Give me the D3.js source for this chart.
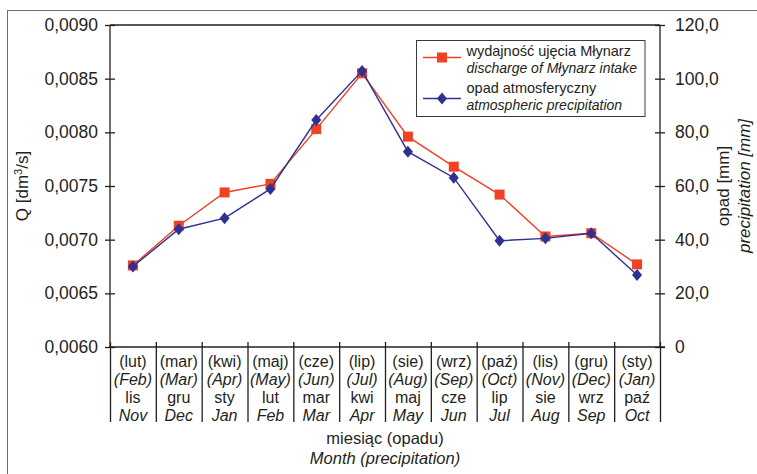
<!DOCTYPE html>
<html>
<head>
<meta charset="utf-8">
<script src="https://cdn.jsdelivr.net/npm/d3@7/dist/d3.min.js"></script>
<style>
  html, body { margin: 0; padding: 0; background: #fff; }
  svg text { font-family: "Liberation Sans", Arial, Helvetica, sans-serif; fill: #231f20; }
</style>
</head>
<body>
<svg id="chart" width="757" height="474"></svg>
<script>
// Month labels (four rows under each category: precipitation month PL/EN, discharge month PL/EN)
const precipMonthsPl = ["(lut)", "(mar)", "(kwi)", "(maj)", "(cze)", "(lip)", "(sie)", "(wrz)", "(paź)", "(lis)", "(gru)", "(sty)"];
const precipMonthsEn = ["(Feb)", "(Mar)", "(Apr)", "(May)", "(Jun)", "(Jul)", "(Aug)", "(Sep)", "(Oct)", "(Nov)", "(Dec)", "(Jan)"];
const monthsPl = ["lis", "gru", "sty", "lut", "mar", "kwi", "maj", "cze", "lip", "sie", "wrz", "paź"];
const monthsEn = ["Nov", "Dec", "Jan", "Feb", "Mar", "Apr", "May", "Jun", "Jul", "Aug", "Sep", "Oct"];

// Discharge of the Młynarz intake, Q [dm3/s]
const discharge = [0.00676, 0.00713, 0.00744, 0.00752, 0.00803, 0.00855, 0.00796, 0.00768, 0.00742, 0.00703, 0.00706, 0.00677];
// Atmospheric precipitation [mm]
const precipitation = [30.0, 43.9, 48.0, 58.9, 84.6, 102.9, 72.8, 63.1, 39.6, 40.5, 42.4, 26.8];

// Axis ticks
const leftTicks = [0.0060, 0.0065, 0.0070, 0.0075, 0.0080, 0.0085, 0.0090];
const rightTicks = [0, 20, 40, 60, 80, 100, 120];

const legendLabels = [
  ["wydajność ujęcia Młynarz", "discharge of Młynarz intake"],
  ["opad atmosferyczny", "atmospheric precipitation"]
];

const RED = "#ef4123";
const BLUE = "#2e3192";
const INK = "#231f20";

const svg = d3.select("#chart");
const margin = { left: 110, right: 97, top: 25, bottom: 127 };
const W = 757, H = 474;
const x0 = margin.left, x1 = W - margin.right;
const y0 = H - margin.bottom, y1 = margin.top;

const locale = d3.formatLocale({ decimal: ",", thousands: " ", grouping: [3], currency: ["", " zł"] });
const fmtQ = locale.format(".4f");
const fmtP = locale.format(".1f");

const n = discharge.length;
const x = d3.scaleBand().domain(d3.range(n)).range([x0, x1]).padding(0);
const xEdge = d3.scaleLinear().domain([0, n]).range([x0, x1]);
const yL = d3.scaleLinear().domain([0.006, 0.009]).range([y0, y1]);
const yR = d3.scaleLinear().domain([0, 120]).range([y0, y1]);
const cx = i => x(i) + x.bandwidth() / 2;

// outer frame
svg.append("rect")
  .attr("x", 7.5).attr("y", 10.5).attr("width", 760).attr("height", 480)
  .attr("fill", "none").attr("stroke", "#6d6e70").attr("stroke-width", 1);

// top border of the plot area
svg.append("line")
  .attr("x1", x0).attr("x2", x1).attr("y1", y1).attr("y2", y1)
  .attr("stroke", INK).attr("stroke-width", 1.3);

// left axis
const gL = svg.append("g").attr("transform", `translate(${x0},0)`)
  .call(d3.axisLeft(yL).tickValues(leftTicks).tickSize(5).tickPadding(7).tickFormat(fmtQ));
gL.selectAll(".tick line").attr("x1", 5);
gL.selectAll(".domain").attr("d", `M0,${y1}V${y0 + 1}`);

// right axis
const gR = svg.append("g").attr("transform", `translate(${x1},0)`)
  .call(d3.axisRight(yR).tickValues(rightTicks).tickSize(5).tickPadding(10)
    .tickFormat(d => d === 0 ? "0" : fmtP(d)));
gR.selectAll(".tick line").attr("x1", -5);
gR.selectAll(".domain").attr("d", `M0,${y1}V${y0}`);

// bottom axis with category separators
const gB = svg.append("g").attr("transform", `translate(0,${y0})`)
  .call(d3.axisBottom(xEdge).tickValues(d3.range(n + 1)).tickSize(0).tickFormat(""));
gB.selectAll(".tick line").attr("y1", -5).attr("y2", 75);
gB.selectAll(".domain").attr("d", `M${x0 - 1},0H${x1 + 5}`);

[gL, gR, gB].forEach(g => {
  g.selectAll("line, path").attr("stroke", INK).attr("stroke-width", 1.3);
  g.selectAll("text").attr("font-size", 17.5).attr("fill", INK)
    .style("font-family", '"Liberation Sans", Arial, sans-serif');
});

// category labels
const rows = [
  { labels: precipMonthsPl, italic: false, y: 366.5 },
  { labels: precipMonthsEn, italic: true, y: 384.5 },
  { labels: monthsPl, italic: false, y: 402.5 },
  { labels: monthsEn, italic: true, y: 420.5 }
];
rows.forEach(r => {
  svg.append("g").selectAll("text").data(r.labels).join("text")
    .attr("x", (d, i) => cx(i)).attr("y", r.y)
    .attr("text-anchor", "middle").attr("font-size", 16)
    .attr("font-style", r.italic ? "italic" : "normal")
    .text(d => d);
});

// axis titles
const midX = (x0 + x1) / 2, midY = (y0 + y1) / 2;
svg.append("text").attr("x", midX).attr("y", 444).attr("text-anchor", "middle")
  .attr("font-size", 16.5).text("miesiąc (opadu)");
svg.append("text").attr("x", midX).attr("y", 463.5).attr("text-anchor", "middle")
  .attr("font-size", 16.5).attr("font-style", "italic").text("Month (precipitation)");

const qTitle = svg.append("text")
  .attr("transform", `translate(28,${midY}) rotate(-90)`)
  .attr("text-anchor", "middle").attr("font-size", 17);
qTitle.append("tspan").text("Q [dm");
qTitle.append("tspan").attr("font-size", 11).attr("dy", -6).text("3");
qTitle.append("tspan").attr("dy", 6).text("/s]");

svg.append("text").attr("transform", `translate(728.5,${midY}) rotate(-90)`)
  .attr("text-anchor", "middle").attr("font-size", 17).text("opad [mm]");
svg.append("text").attr("transform", `translate(749.5,${midY}) rotate(-90)`)
  .attr("text-anchor", "middle").attr("font-size", 17).attr("font-style", "italic")
  .text("precipitation [mm]");

// diamond marker slightly wider than d3's symbolDiamond
const wideDiamond = {
  draw(ctx, size) {
    const h = Math.sqrt(size) / 2, w = h * 0.84;
    ctx.moveTo(0, -h); ctx.lineTo(w, 0); ctx.lineTo(0, h); ctx.lineTo(-w, 0); ctx.closePath();
  }
};

// discharge series (left axis)
svg.append("path").datum(discharge)
  .attr("fill", "none").attr("stroke", RED).attr("stroke-width", 1.4)
  .attr("d", d3.line().x((d, i) => cx(i)).y(d => yL(d)));
svg.append("g").selectAll("path").data(discharge).join("path")
  .attr("transform", (d, i) => `translate(${cx(i)},${yL(d)})`)
  .attr("d", d3.symbol(d3.symbolSquare, 100)).attr("fill", RED);

// precipitation series (right axis)
svg.append("path").datum(precipitation)
  .attr("fill", "none").attr("stroke", BLUE).attr("stroke-width", 1.4)
  .attr("d", d3.line().x((d, i) => cx(i)).y(d => yR(d)));
svg.append("g").selectAll("path").data(precipitation).join("path")
  .attr("transform", (d, i) => `translate(${cx(i)},${yR(d)})`)
  .attr("d", d3.symbol(wideDiamond, 144)).attr("fill", BLUE);

// legend
const lg = svg.append("g");
lg.append("rect").attr("x", 416.5).attr("y", 40.5).attr("width", 228.5).attr("height", 76)
  .attr("fill", "#fff").attr("stroke", "#3a3a3c").attr("stroke-width", 1);
const entries = [
  { color: RED, sym: d3.symbol(d3.symbolSquare, 100), symY: 57.5, textY: [56, 72.7] },
  { color: BLUE, sym: d3.symbol(wideDiamond, 144), symY: 98.5, textY: [93, 109.5] }
];
entries.forEach((e, k) => {
  lg.append("line").attr("x1", 423).attr("x2", 461).attr("y1", e.symY).attr("y2", e.symY)
    .attr("stroke", e.color).attr("stroke-width", 1.4);
  lg.append("path").attr("transform", `translate(442,${e.symY})`).attr("d", e.sym).attr("fill", e.color);
  lg.append("text").attr("x", 466.5).attr("y", e.textY[0]).attr("font-size", 14.5).text(legendLabels[k][0]);
  lg.append("text").attr("x", 466.5).attr("y", e.textY[1]).attr("font-size", 14)
    .attr("font-style", "italic").text(legendLabels[k][1]);
});
</script>
</body>
</html>
